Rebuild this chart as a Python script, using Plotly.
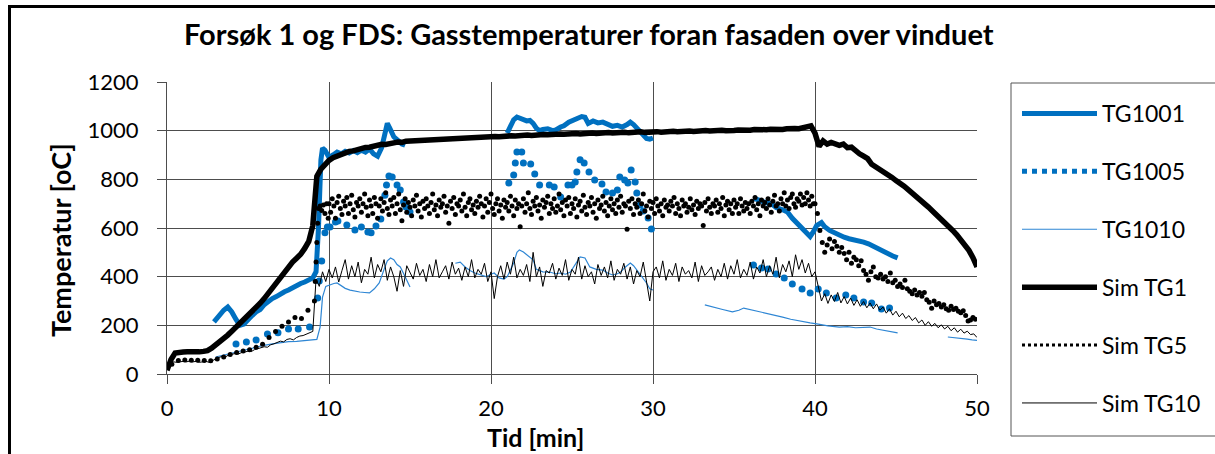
import numpy as np
import plotly.graph_objects as go

# ------------------------------------------------------------------ data
# Sim TG1 : thick black line, sampled every 0.25 min from t = 0
sim_tg1 = [
    15, 60, 86, 90, 90, 91, 90, 92, 91, 93,
    96, 106, 118, 130, 145, 160, 176, 192, 206, 221,
    236, 252, 270, 291, 310, 332, 354, 376, 398, 422,
    442, 460, 476, 492, 516, 545, 610, 812, 842, 862,
    878, 889, 897, 905, 909, 915, 917, 923, 925, 931,
    932, 937, 939, 944, 943, 949, 950, 953, 952, 957,
    958, 960, 958, 962, 961, 964, 962, 966, 965, 967,
    966, 969, 968, 971, 969, 972, 971, 974, 972, 975,
    974, 976, 975, 978, 976, 979, 978, 980, 979, 982,
    980, 983, 981, 984, 983, 985, 983, 986, 985, 987,
    986, 988, 986, 989, 987, 990, 988, 991, 989, 992,
    990, 992, 991, 993, 991, 994, 992, 995, 993, 995,
    994, 996, 994, 997, 995, 998, 996, 998, 997, 999,
    997, 1000, 998, 1001, 999, 1001, 1000, 1002, 1000, 1003,
    1001, 1003, 1002, 1004, 1002, 1005, 1003, 1006, 1004, 1006,
    1005, 1007, 1005, 1008, 1006, 1009, 1008, 1011, 1016, 1020,
    990, 935, 958, 945, 952, 948, 940, 945, 930, 932,
    915, 905, 895, 885, 862, 852, 842, 832, 818, 808,
    795, 785, 772, 758, 745, 730, 716, 700, 686, 670,
    655, 640, 624, 608, 590, 572, 553, 530, 508, 478,
    440,
]
sim_tg1_step = 0.25

# Sim TG10 : thin black line, sampled every 0.2 min from t = 0
sim_tg10 = [
    35, 45, 50, 48, 50, 52, 50, 53, 50, 52, 48, 50, 52, 48, 55,
    62, 68, 72, 70, 78, 80, 84, 82, 88, 90, 94, 92, 100, 104, 108,
    112, 110, 120, 124, 128, 135, 132, 142, 145, 140, 150, 156, 158, 164, 170, 175,
    390, 360, 420, 380, 430,
    395, 440, 378, 425, 470, 390, 445, 400, 460, 375,
    430, 410, 480, 395, 450, 420, 470, 385, 440, 400,
    340, 425, 360, 445, 415, 390, 455, 405, 430, 380,
    450, 400, 470, 395, 420, 445, 390, 460, 410, 435,
    385, 440, 400, 470, 395, 430, 410, 455, 380, 420,
    310, 400, 445, 390, 460, 410, 480, 395, 430, 405,
    450, 380, 500, 400, 440, 360, 425, 415, 455, 390,
    435, 405, 470, 385, 430, 410, 480, 390, 445, 400,
    420, 370, 450, 405, 440, 395, 465, 385, 430, 410,
    455, 390, 440, 370, 425, 400, 460, 380, 300, 420,
    440, 395, 465, 385, 430, 405, 455, 380, 440, 410,
    425, 395, 460, 380, 445, 405, 420, 440, 385, 430,
    400, 455, 390, 445, 410, 470, 395, 430, 405, 460,
    390, 440, 415, 470, 400, 445, 410, 480, 395, 450,
    420, 465, 400, 490, 430, 470, 415, 455, 400, 420,
    360, 300, 330, 290, 325, 298, 335, 292, 318, 288,
    312, 282, 305, 278, 298, 272, 292, 268, 288, 262,
    275, 250, 268, 242, 258, 235, 250, 228, 240, 220,
    232, 210, 222, 200, 215, 196, 208, 190, 202, 185,
    196, 178, 190, 172, 184, 168, 176, 162, 165, 150,
]
sim_tg10_step = 0.2

# Sim TG5 : black dotted series, in four sampled pieces
sim_tg5_a = [40, 55, 58, 56, 57, 55, 54, 62, 70, 80, 88, 95, 100, 110, 122,
             150, 175, 196, 214, 232, 228, 262, 300]           # t = 0.3 + 0.4 i
sim_tg5_b_t = [9.15, 9.2, 9.25, 9.3, 9.35, 9.45, 9.55, 9.65, 9.75, 9.85, 9.95]
sim_tg5_b = [380, 460, 540, 620, 680, 690, 672, 695, 660, 700, 640]
sim_tg5_c = [                                                   # t = 10.0 + 0.1 i
    700, 665, 720, 690, 640, 705, 730, 680, 655, 710,
    690, 725, 660, 700, 735, 675, 645, 705, 690, 720,
    665, 700, 740, 685, 650, 715, 690, 660, 725, 700,
    640, 690, 720, 670, 705, 745, 680, 655, 715, 690,
    725, 660, 700, 740, 675, 630, 695, 720, 665, 705,
    685, 650, 715, 690, 735, 670, 700, 645, 710, 680,
    720, 690, 660, 705, 740, 675, 695, 650, 715, 685,
    700, 730, 665, 690, 620, 710, 680, 725, 655, 700,
    690, 715, 670, 740, 685, 650, 705, 720, 675, 695,
    660, 710, 685, 730, 700, 645, 690, 720, 665, 705,
    740, 680, 655, 700, 720, 670, 695, 640, 715, 685,
    705, 670, 730, 690, 650, 715, 680, 700, 605, 690,
    720, 665, 700, 745, 680, 655, 710, 690, 725, 670,
    695, 640, 715, 685, 705, 730, 660, 700, 680, 720,
    665, 690, 740, 675, 705, 650, 715, 690, 725, 660,
    700, 680, 720, 645, 695, 710, 670, 735, 685, 655,
    705, 690, 725, 665, 700, 640, 715, 680, 695, 730,
    670, 705, 650, 690, 720, 675, 700, 660, 715, 685,
    730, 665, 700, 690, 595, 710, 680, 720, 655, 700,
    685, 715, 660, 700, 740, 670, 690, 645, 710, 680,
    705, 660, 720, 690, 670, 700, 650, 715, 685, 695,
    670, 710, 690, 725, 660, 700, 680, 650, 715, 690,
    700, 665, 685, 720, 675, 695, 655, 710, 680, 700,
    690, 610, 705, 670, 720, 685, 660, 700, 690, 715,
    665, 700, 680, 725, 650, 695, 710, 675, 700, 660,
    715, 685, 700, 660, 720, 690, 670, 705, 680, 700,
    660, 710, 690, 725, 675, 700, 650, 715, 690, 705,
    680, 720, 695, 665, 710, 735, 690, 700, 670, 720,
    700, 745, 690, 715, 680, 725, 740, 700, 685, 720,
    710, 740, 695, 725, 700, 745, 715, 690, 730, 700,
]
sim_tg5_d = [                                                   # t = 40.0 + 0.15 i
    700, 660, 590, 540, 500, 530, 555, 515, 545, 525,
    500, 520, 495, 470, 500, 455, 480, 470, 445, 465,
    425, 410, 385, 420, 440, 400, 395, 410, 390, 400,
    380, 415, 375, 385, 360, 370, 355, 385, 350, 340,
    330, 345, 325, 335, 320, 335, 305, 295, 270, 300,
    285, 290, 275, 285, 268, 262, 278, 265, 270, 258,
    252, 260, 240, 218, 222, 232, 225,
]

# TG1001 : thick blue line, three measured pieces
tg1001_t1 = [2.9, 3.2, 3.5, 3.75, 4.0, 4.25, 4.5, 4.75, 5.0, 5.25, 5.5, 5.75, 6.0,
             6.25, 6.5, 6.75, 7.0, 7.25, 7.5, 7.75, 8.0, 8.25, 8.5, 8.75, 9.0, 9.2,
             9.35, 9.5, 9.6, 9.75, 10.0, 10.25, 10.5, 10.75, 11.0, 11.25, 11.5,
             11.75, 12.0, 12.25, 12.5, 12.75, 13.0, 13.25, 13.45, 13.6, 13.75,
             14.0, 14.25, 14.5, 14.7]
tg1001_v1 = [214, 240, 262, 275, 255, 225, 200, 205, 225, 240, 255, 265, 285,
             300, 310, 318, 330, 338, 345, 355, 362, 372, 378, 386, 395, 420,
             600, 880, 928, 920, 890, 900, 912, 905, 915, 908, 918,
             910, 920, 912, 925, 905, 895, 930, 1000, 1030, 1010,
             975, 960, 945, 940]
tg1001_t2 = [21.0, 21.2, 21.4, 21.6, 21.8, 22.0, 22.2, 22.4, 22.6, 22.8, 23.0,
             23.2, 23.5, 23.8, 24.0, 24.3, 24.5, 24.8, 25.0, 25.3, 25.6, 25.8,
             26.0, 26.3, 26.6, 26.9, 27.2, 27.5, 27.8, 28.1, 28.4, 28.6, 28.8,
             29.0, 29.2, 29.4, 29.6, 29.8, 30.0]
tg1001_v2 = [990, 1020, 1045, 1056, 1050, 1048, 1040, 1042, 1030, 1010, 1000,
             1005, 1008, 1000, 1003, 1015, 1020, 1035, 1040, 1048, 1058, 1055,
             1030, 1040, 1032, 1035, 1025, 1018, 1022, 1015, 1025, 1035, 1025,
             1010, 995, 980, 968, 965, 970]
tg1001_t3 = [36.2, 36.5, 36.8, 37.0, 37.3, 37.6, 38.0, 38.3, 38.6, 38.9, 39.2,
             39.5, 39.7, 39.9, 40.1, 40.4, 40.6, 40.9, 41.2, 41.5, 41.8, 42.1,
             42.4, 42.7, 43.0, 43.3, 43.6, 43.9, 44.2, 44.5, 44.8, 45.1]
tg1001_v3 = [723, 715, 712, 703, 700, 684, 675, 666, 640, 620, 595,
             580, 565, 585, 610, 622, 605, 590, 580, 570, 562, 556,
             553, 545, 542, 535, 524, 515, 505, 495, 485, 477]

# TG1005 : blue dotted series (measured points)
tg1005_t = [4.26, 4.9, 5.5, 6.2, 6.85, 7.5, 8.1, 8.8, 9.3, 9.4, 9.55, 9.75, 9.9,
            10.06, 10.4, 10.55, 11.1, 11.6, 12.0, 12.4, 12.6, 12.9, 13.2, 13.45,
            13.55, 13.7, 13.9, 14.2, 14.4, 14.6, 14.75, 15.0,
            21.1, 21.4, 21.5, 21.6, 21.9, 22.0, 22.45, 22.7, 23.0, 23.6, 23.9,
            24.3, 24.75, 25.0, 25.2, 25.3, 25.5, 25.75, 26.05, 26.4, 26.85, 27.1,
            27.5, 27.8, 27.95, 28.25, 28.45, 28.65, 28.9, 29.0, 29.2, 29.4, 29.7, 29.9,
            36.2, 36.7, 37.1, 37.6, 38.1, 38.6, 39.2, 39.7, 40.2, 40.7, 41.3, 41.9,
            42.4, 43.0, 43.5, 44.1, 44.6]
tg1005_v = [123, 132, 140, 164, 170, 185, 185, 193, 312, 382, 464, 580, 604,
            604, 625, 629, 612, 592, 604, 584, 580, 608, 637, 735,
            777, 814, 810, 777, 756, 707, 686, 666,
            785, 818, 867, 912, 912, 867, 863, 822, 777, 777, 769,
            727, 777, 777, 789, 830, 880, 867, 830, 797, 781, 748,
            744, 756, 810, 797, 785, 838, 789, 744, 695, 670, 641, 596,
            448, 436, 432, 411, 395, 370, 349, 333, 349, 333, 312, 325,
            312, 296, 292, 267, 271]

# TG1010 : thin blue line, four measured pieces
tg1010_t1 = [3.0, 3.5, 4.0, 4.5, 5.0, 5.5, 6.0, 6.5, 7.0, 7.5, 8.0, 8.5, 9.0, 9.25,
             9.45, 9.6, 9.8, 10.0, 10.3, 10.5, 10.8, 11.0, 11.3, 11.6, 11.9, 12.2,
             12.5, 12.8, 13.1, 13.4, 13.6, 13.8, 14.0, 14.2, 14.4, 14.7, 15.0]
tg1010_v1 = [70, 78, 88, 95, 105, 112, 118, 124, 130, 133, 134, 136, 138, 142,
             193, 316, 360, 366, 372, 374, 360, 352, 345, 340, 337, 335,
             333, 350, 374, 430, 465, 477, 470, 450, 440, 400, 358]
tg1010_t2 = [17.8, 18.1, 18.4, 18.7, 19.0, 19.4, 19.7, 20.0, 20.2, 20.5, 20.8,
             21.0, 21.2, 21.4, 21.6, 21.75, 22.0, 22.3, 22.6, 22.8, 23.2, 23.6,
             24.0, 24.3, 24.6, 24.9, 25.2, 25.5, 25.8, 26.1, 26.5, 26.9, 27.2,
             27.5, 27.8, 28.0, 28.3, 28.6, 28.8, 29.0, 29.3, 29.6, 29.8, 30.0]
tg1010_v2 = [455, 460, 440, 425, 415, 405, 400, 410, 415, 395, 390,
             400, 430, 456, 500, 510, 501, 485, 469, 430, 420, 419,
             412, 415, 410, 419, 450, 481, 477, 440, 430, 427, 415,
             407, 412, 419, 440, 456, 445, 427, 400, 374, 350, 345]
tg1010_t3 = [33.2, 33.8, 34.3, 34.9, 35.3, 35.6, 36.2, 36.8, 37.4, 38.0, 38.5,
             39.0, 39.7, 40.2, 40.8, 41.5, 42.0, 42.5, 43.0, 43.4, 43.8, 44.2,
             44.6, 45.1]
tg1010_v3 = [284, 275, 265, 255, 262, 271, 262, 255, 245, 234, 225,
             218, 210, 205, 198, 193, 195, 190, 193, 193, 185, 180,
             175, 169]
tg1010_t4 = [48.2, 48.6, 49.0, 49.4, 49.7, 50.0]
tg1010_v4 = [152, 150, 146, 143, 140, 138]

x_ticks = [0, 10, 20, 30, 40, 50]
y_ticks = [0, 200, 400, 600, 800, 1000, 1200]

title_text = "Forsøk 1 og FDS: Gasstemperaturer foran fasaden over vinduet"
x_title = "Tid [min]"
y_title = "Temperatur [oC]"

# ------------------------------------------------------------------ helpers
def join(*pieces):
    xs, ys = [], []
    for i, (t, v) in enumerate(pieces):
        if i:
            xs.append(None)
            ys.append(None)
        xs += list(t)
        ys += list(v)
    return xs, ys

t_sim1 = np.round(np.arange(len(sim_tg1)) * sim_tg1_step, 3)
t_sim10 = np.round(np.arange(len(sim_tg10)) * sim_tg10_step, 3)
t5 = (list(np.round(0.3 + 0.4 * np.arange(len(sim_tg5_a)), 3)) + sim_tg5_b_t +
      list(np.round(10.0 + 0.1 * np.arange(len(sim_tg5_c)), 3)) +
      list(np.round(40.0 + 0.15 * np.arange(len(sim_tg5_d)), 3)))
v5 = sim_tg5_a + sim_tg5_b + sim_tg5_c + sim_tg5_d

x1001, y1001 = join((tg1001_t1, tg1001_v1), (tg1001_t2, tg1001_v2), (tg1001_t3, tg1001_v3))
x1010, y1010 = join((tg1010_t1, tg1010_v1), (tg1010_t2, tg1010_v2),
                    (tg1010_t3, tg1010_v3), (tg1010_t4, tg1010_v4))

BLUE = "#0070C0"
BLUE_THIN = "#2E86D4"
FONT = "Lato"

fig = go.Figure()
# plotted series (drawing order as in the source chart)
fig.add_trace(go.Scatter(x=x1001, y=y1001, mode="lines", name="TG1001",
                         line=dict(color=BLUE, width=5), connectgaps=False,
                         legendgroup="g1", legendrank=1))
fig.add_trace(go.Scatter(x=tg1005_t, y=tg1005_v, mode="markers", name="TG1005",
                         marker=dict(color=BLUE, size=7), showlegend=False,
                         legendgroup="g2"))
fig.add_trace(go.Scatter(x=x1010, y=y1010, mode="lines", name="TG1010",
                         line=dict(color=BLUE_THIN, width=1.2), connectgaps=False,
                         legendgroup="g3", legendrank=3))
fig.add_trace(go.Scatter(x=t_sim1, y=sim_tg1, mode="lines", name="Sim TG1",
                         line=dict(color="black", width=5.5),
                         legendgroup="g4", legendrank=4))
fig.add_trace(go.Scatter(x=t5, y=v5, mode="markers", name="Sim TG5",
                         marker=dict(color="black", size=5), showlegend=False,
                         legendgroup="g5"))
fig.add_trace(go.Scatter(x=t_sim10, y=sim_tg10, mode="lines", name="Sim TG10",
                         line=dict(color="black", width=1),
                         legendgroup="g6", legendrank=6))
# legend-only entries for the dotted series
fig.add_trace(go.Scatter(x=[None], y=[None], mode="lines", name="TG1005",
                         line=dict(color=BLUE, width=5, dash="dot"),
                         legendgroup="g2", legendrank=2))
fig.add_trace(go.Scatter(x=[None], y=[None], mode="lines", name="Sim TG5",
                         line=dict(color="black", width=3, dash="dot"),
                         legendgroup="g5", legendrank=5))

GRID = "#4d4d4d"
PX0, PX1, PY0, PY1 = 167, 977, 82, 374   # plot area in pixels
def px(x):
    return (x - PX0) / (PX1 - PX0)
def py(y):
    return (PY1 - y) / (PY1 - PY0)

fig.update_layout(
    width=1215, height=454,
    margin=dict(l=PX0, r=1215 - PX1, t=PY0, b=454 - PY1, autoexpand=False),
    paper_bgcolor="white", plot_bgcolor="white",
    font=dict(family=FONT, color="black", size=22),
    showlegend=True,
    legend=dict(x=px(1017), y=py(92), xanchor="left", yanchor="top",
                font=dict(family=FONT, size=23, color="black"),
                traceorder="grouped", tracegroupgap=25, itemwidth=75,
                bgcolor="rgba(0,0,0,0)", borderwidth=0),
    xaxis=dict(range=[0, 50], tickvals=x_ticks, showgrid=True, gridcolor=GRID,
               gridwidth=1, showline=True, linecolor=GRID, linewidth=1,
               ticks="outside", ticklen=9, tickcolor=GRID, zeroline=False,
               tickfont=dict(size=22), ticklabelstandoff=6),
    yaxis=dict(range=[0, 1200], tickvals=y_ticks, showgrid=True, gridcolor=GRID,
               gridwidth=1, showline=True, linecolor=GRID, linewidth=1,
               ticks="outside", ticklen=9, tickcolor=GRID, zeroline=False,
               tickfont=dict(size=22), ticklabelstandoff=14),
    annotations=[
        dict(text="<b>%s</b>" % title_text, x=px(589), y=py(33), xref="paper",
             yref="paper", showarrow=False, xanchor="center", yanchor="middle",
             font=dict(size=29, family=FONT)),
        dict(text="<b>%s</b>" % x_title, x=px(535), y=py(437), xref="paper",
             yref="paper", showarrow=False, xanchor="center", yanchor="middle",
             font=dict(size=25, family=FONT)),
        dict(text="<b>%s</b>" % y_title, x=px(61), y=py(240), xref="paper",
             yref="paper", showarrow=False, xanchor="center", yanchor="middle",
             textangle=-90, font=dict(size=27, family=FONT)),
    ],
    shapes=[
        dict(type="rect", xref="paper", yref="paper", x0=px(9.5), x1=px(1240),
             y0=py(6.5), y1=py(480), line=dict(color="black", width=3)),
        dict(type="rect", xref="paper", yref="paper", x0=px(1011), x1=px(1240),
             y0=py(83), y1=py(436), line=dict(color="#555555", width=1)),
    ],
)

# let the legend use the full height beside the plot (no scroll bar)
try:
    fig.update_layout(legend=dict(maxheight=400))
except Exception:
    pass

fig.write_html("out.html")
